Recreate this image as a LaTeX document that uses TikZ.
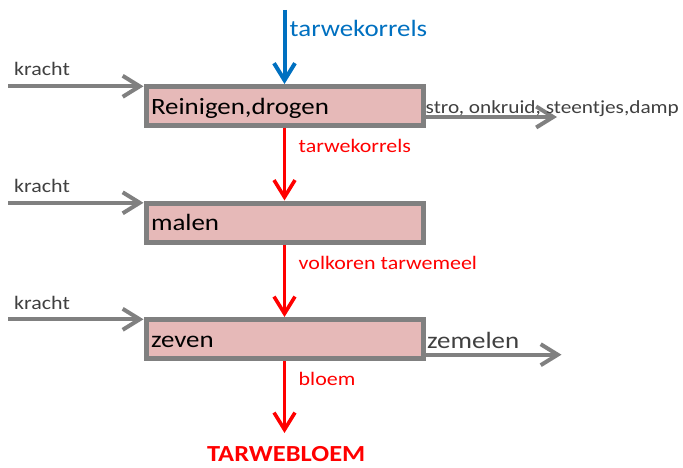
\documentclass[tikz,border=0pt]{standalone}
\usepackage{fontspec}
\setmainfont{Carlito}[FakeStretch=1.15]
\usetikzlibrary{arrows.meta,calc}
\definecolor{boxfill}{RGB}{230,185,184}
\definecolor{boxline}{RGB}{128,128,128}
\definecolor{labelgray}{RGB}{64,64,64}
\definecolor{inblue}{RGB}{0,112,192}
\definecolor{flowred}{RGB}{255,0,0}
\tikzset{
  stepbox/.style={draw=boxline, fill=boxfill, line width=5pt, rectangle,
    minimum width=277pt, minimum height=39pt, inner xsep=5pt, inner ysep=0pt,
    text width=267pt, align=left, text height=17.6pt, text depth=1pt,
    font=\fontsize{23.4}{25}\selectfont, text=black},
  chev/.style={-{Straight Barb[length=17pt,width=21pt]}},
  grayflow/.style={chev, draw=boxline, line width=4pt},
  redflow/.style={chev, draw=flowred, line width=3.6pt},
  blueflow/.style={chev, draw=inblue, line width=4pt},
  smalltxt/.style={anchor=base west, inner sep=0pt, font=\fontsize{19.1}{21}\selectfont},
  bigtxt/.style={anchor=base west, inner sep=0pt, font=\fontsize{23.4}{25}\selectfont},
}
\begin{document}
\begin{tikzpicture}[x=1pt, y=-1pt]
\useasboundingbox (0,0) rectangle (683,468);

% process steps
\node[stepbox] (b1) at (284.5,106) {Reinigen,drogen};
\node[stepbox] (b2) at (284.5,222.5) {malen};
\node[stepbox] (b3) at (284.5,339) {zeven};

% grain input from above
\coordinate (in) at (284.5,10);
\draw[blueflow] (in) -- (b1.north);
\node[bigtxt, text=inblue] (lin) at (289.5,36.7) {tarwekorrels};

% power inputs
\coordinate (k1) at (8,86.3);
\coordinate (k2) at (8,202.8);
\coordinate (k3) at (8,319.3);
\draw[grayflow] (k1) -- (k1 -| b1.west);
\draw[grayflow] (k2) -- (k2 -| b2.west);
\draw[grayflow] (k3) -- (k3 -| b3.west);
\node[smalltxt, text=labelgray] (lk1) at (14,76) {kracht};
\node[smalltxt, text=labelgray] (lk2) at (14,192.5) {kracht};
\node[smalltxt, text=labelgray] (lk3) at (14,309) {kracht};

% main product flow
\coordinate (out) at (284.5,433);
\draw[redflow] (b1.south) -- (b2.north);
\draw[redflow] (b2.south) -- (b3.north);
\draw[redflow] (b3.south) -- (out);
\node[smalltxt, text=flowred] (l1) at (298.5,153) {tarwekorrels};
\node[smalltxt, text=flowred] (l2) at (298.5,269.5) {volkoren tarwemeel};
\node[smalltxt, text=flowred] (l3) at (298.5,385.5) {bloem};
\node[anchor=base west, inner sep=0pt, text=flowred, font=\fontsize{23}{25}\selectfont\bfseries] (prod) at (207,461.7) {TARWEBLOEM};

% side streams
\coordinate (w1s) at ($(b1.east)+(0,11)$);
\coordinate (w1e) at (557,117);
\draw[grayflow] (w1s) -- (w1e);
\node[smalltxt, text=labelgray, font=\fontsize{18.5}{20}\selectfont] (lw1) at (425.5,114) {stro, onkruid, steentjes,damp};
\coordinate (w2s) at ($(b3.east)+(0,15.7)$);
\coordinate (w2e) at (561.5,354.7);
\draw[grayflow] (w2s) -- (w2e);
\node[bigtxt, text=labelgray] (lw2) at (427,348) {zemelen};
\end{tikzpicture}
\end{document}
